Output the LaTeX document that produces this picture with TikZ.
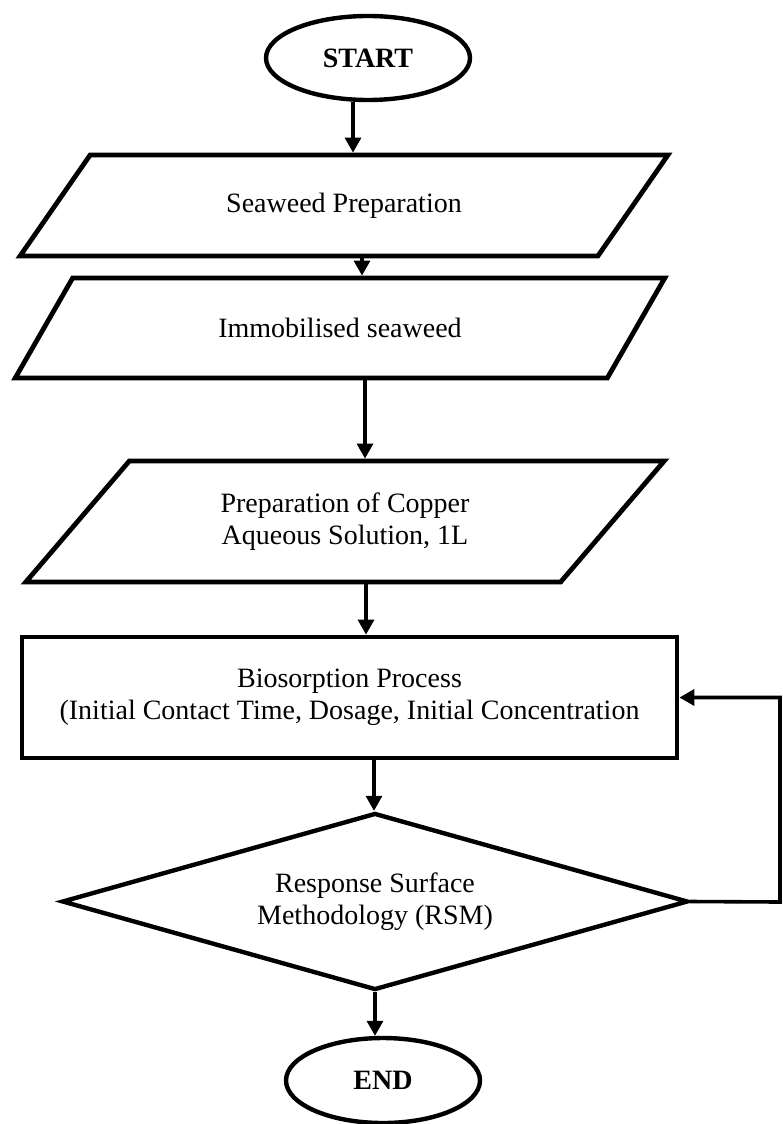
\documentclass[tikz,border=0pt]{standalone}
\usepackage{fontspec}
\setmainfont{Liberation Serif}
\usetikzlibrary{shapes.geometric,arrows.meta}

\tikzset{
  boxfont/.style={font=\fontsize{14pt}{16pt}\selectfont},
  terminal/.style={ellipse, draw, line width=2.2pt, inner sep=0pt,
    font=\fontsize{14pt}{16pt}\selectfont\bfseries},
  iobox/.style={trapezium, trapezium stretches=true, draw, line width=2.4pt,
    inner sep=0pt, align=center, boxfont},
  procbox/.style={rectangle, draw, line width=2.4pt, inner sep=0pt,
    align=center, boxfont},
  decision/.style={diamond, aspect=3.5, draw, line width=2.2pt, inner sep=0pt,
    align=center, boxfont},
  arr/.style={line width=1.6pt, -{Triangle[width=8pt,length=7.5pt]}},
  backline/.style={line width=1.8pt, -{Triangle[width=8pt,length=7.5pt]}}
}

\begin{document}
\begin{tikzpicture}[x=0.5pt,y=-0.5pt]

    % Fix the page to the size of the reference
    \useasboundingbox (0,0) rectangle (782,1124);

    % Start of the chart
    \node[terminal, minimum width=102pt, minimum height=42pt] (start) at (368,58) {START};

    % First input: the seaweed
    \node[iobox, trapezium left angle=38, trapezium right angle=142,
      minimum width=324pt, minimum height=50.5pt] (prep) at (344,205.5) {Seaweed Preparation};

    % Second input: immobilised seaweed
    \node[iobox, trapezium left angle=37, trapezium right angle=143,
      minimum width=325pt, minimum height=50pt] (immob) at (340,328) {Immobilised seaweed};

    % Third input: the copper solution
    \node[iobox, trapezium left angle=44, trapezium right angle=136,
      minimum width=320pt, minimum height=60.5pt] (copper) at (345,521.5)
      {Preparation of Copper\\Aqueous Solution, 1L};

    % Process box
    \node[procbox, minimum width=327.5pt, minimum height=60.5pt] (bio) at (349.5,697.5)
      {Biosorption Process\\(Initial Contact Time, Dosage, Initial Concentration};

    % Decision on the RSM
    \node[decision, minimum width=313pt, minimum height=88.5pt] (rsm) at (375,901.5)
      {Response Surface\\Methodology (RSM)};

    % End of the chart
    \node[terminal, minimum width=97pt, minimum height=42.5pt] (end) at (383,1080.5) {END};

    % Arrows down the chart
    \draw[arr] (353,0 |- start.south) -- (353,0 |- prep.north);
    \draw[arr] (362,0 |- prep.south) -- (362,0 |- immob.north);
    \draw[arr] (365,0 |- immob.south) -- (365,0 |- copper.north);
    \draw[arr] (366,0 |- copper.south) -- (366,0 |- bio.north);
    \draw[arr] (374,0 |- bio.south) -- (374,0 |- rsm.north);
    \draw[arr] (rsm.south) -- (rsm.south |- end.north);

    % Loop back from the RSM to the process
    \coordinate (back) at (780,902);
    \draw[backline] (rsm.east) -- (back) |- (bio.east);

\end{tikzpicture}
\end{document}
